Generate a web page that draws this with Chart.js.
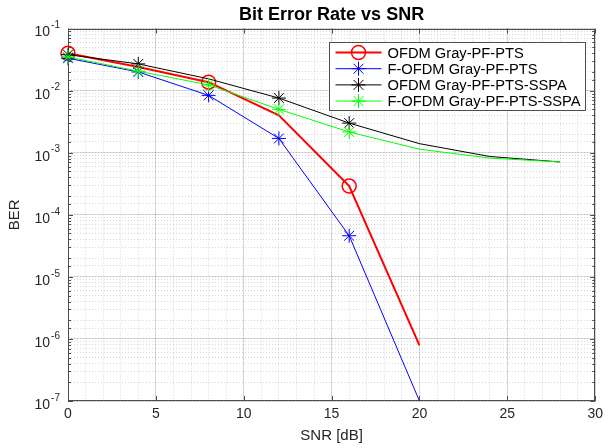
<!DOCTYPE html>
<html>
<head>
<meta charset="utf-8">
<script src="https://cdn.jsdelivr.net/npm/chart.js@4.4.1/dist/chart.umd.min.js"></script>
<style>
  html, body { margin: 0; padding: 0; background: #ffffff; }
  #wrap { width: 608px; height: 448px; }
</style>
</head>
<body>
<div id="wrap"><canvas id="c" width="608" height="448"></canvas></div>
<script>
// ---- data ----
const snr = [0, 4, 8, 12, 16, 20, 24, 28];
const seriesNames = [
  'OFDM Gray-PF-PTS',
  'F-OFDM Gray-PF-PTS',
  'OFDM Gray-PF-PTS-SSPA',
  'F-OFDM Gray-PF-PTS-SSPA'
];
const berOfdmPts      = [0.040, 0.024, 0.0137, 0.0040, 2.9e-4, 7.9e-7];
const berFofdmPts     = [0.0333, 0.020, 0.0084, 0.0017, 4.6e-5, 1.0e-7];
const berOfdmPtsSspa  = [0.038, 0.027, 0.0155, 0.0076, 0.0030, 0.0014, 8.7e-4, 7.1e-4];
const berFofdmPtsSspa = [0.035, 0.0206, 0.0124, 0.0050, 0.00216, 0.00114, 8.2e-4, 7.1e-4];
const xTicks = [0, 5, 10, 15, 20, 25, 30];
const yExponents = [-1, -2, -3, -4, -5, -6, -7];

// which samples carry a marker (style)
const markerOfdmPts      = [true, false, true, false, true, false];
const markerFofdmPts     = [true, true, true, true, true, false];
const markerOfdmPtsSspa  = [true, true, false, true, true, false, false, false];
const markerFofdmPtsSspa = [true, true, true, true, true, false, false, false];

const FONT = '"Liberation Sans", Arial, Helvetica, sans-serif';
const toXY = (ys) => ys.map((v, i) => ({ x: snr[i], y: v }));
const radii = (flags, r) => flags.map(f => f ? r : 0);

const styles = [
  { color: '#ff0000', width: 2, marker: 'circle', r: 7, mw: 1.5 },
  { color: '#0000ff', width: 1, marker: 'star', r: 7, mw: 1 },
  { color: '#000000', width: 1, marker: 'star', r: 7, mw: 1 },
  { color: '#00ff00', width: 1, marker: 'star', r: 7, mw: 1 }
];
const seriesData = [berOfdmPts, berFofdmPts, berOfdmPtsSspa, berFofdmPtsSspa];
const seriesMarkers = [markerOfdmPts, markerFofdmPts, markerOfdmPtsSspa, markerFofdmPtsSspa];

const datasets = seriesData.map((d, i) => ({
  label: seriesNames[i],
  data: toXY(d),
  borderColor: styles[i].color,
  backgroundColor: 'rgba(0,0,0,0)',
  borderWidth: styles[i].width,
  pointStyle: styles[i].marker,
  pointRadius: radii(seriesMarkers[i], styles[i].r),
  pointBorderWidth: styles[i].mw,
  pointBorderColor: styles[i].color,
  pointBackgroundColor: 'rgba(0,0,0,0)',
  pointHoverRadius: 0,
  tension: 0,
  clip: false,
  order: 3 - i
}));

const isDecade = (v) => Math.abs(Math.log10(v) - Math.round(Math.log10(v))) < 1e-6;

function drawMarker(ctx, st, x, y) {
  ctx.lineWidth = st.mw;
  ctx.strokeStyle = st.color;
  ctx.beginPath();
  if (st.marker === 'circle') {
    ctx.arc(x, y, st.r, 0, Math.PI * 2);
  } else {
    const r = st.r, d = r * Math.SQRT1_2;
    ctx.moveTo(x - r, y); ctx.lineTo(x + r, y);
    ctx.moveTo(x, y - r); ctx.lineTo(x, y + r);
    ctx.moveTo(x - d, y - d); ctx.lineTo(x + d, y + d);
    ctx.moveTo(x - d, y + d); ctx.lineTo(x + d, y - d);
  }
  ctx.stroke();
}

// frame, inward ticks, y tick labels with superscripts, legend
const decorPlugin = {
  id: 'decor',
  beforeDatasetsDraw(chart) {
    const ctx = chart.ctx;
    const a = chart.chartArea;
    const xs = chart.scales.x, ys = chart.scales.yMinor;
    ctx.save();
    ctx.strokeStyle = '#4d4d4d';
    ctx.lineWidth = 1;
    ctx.setLineDash([]);
    ctx.strokeRect(Math.round(a.left) + 0.5, Math.round(a.top) + 0.5,
                   Math.round(a.right - a.left) - 1, Math.round(a.bottom - a.top) - 1);
    ctx.beginPath();
    xs.ticks.forEach(t => {
      const px = Math.round(xs.getPixelForValue(t.value)) + 0.5;
      ctx.moveTo(px, a.bottom); ctx.lineTo(px, a.bottom - 5);
      ctx.moveTo(px, a.top); ctx.lineTo(px, a.top + 5);
    });
    ys.ticks.forEach(t => {
      const py = Math.round(ys.getPixelForValue(t.value)) + 0.5;
      const len = isDecade(t.value) ? 5 : 3;
      ctx.moveTo(a.left, py); ctx.lineTo(a.left + len, py);
      ctx.moveTo(a.right, py); ctx.lineTo(a.right - len, py);
    });
    ctx.stroke();
    ctx.restore();
  },
  afterDraw(chart) {
    const ctx = chart.ctx;
    const a = chart.chartArea;
    const ys = chart.scales.y;
    ctx.save();
    // y tick labels 10^k
    ctx.fillStyle = '#262626';
    yExponents.forEach(k => {
      const py = ys.getPixelForValue(Math.pow(10, k));
      const expTxt = String(k);
      ctx.font = '10px ' + FONT;
      ctx.textAlign = 'right';
      ctx.textBaseline = 'middle';
      const ew = ctx.measureText(expTxt).width;
      const right = a.left - 8;
      ctx.fillText(expTxt, right, py - 3);
      ctx.font = '14px ' + FONT;
      ctx.fillText('10', right - ew - 1, py + 4);
    });
    // legend
    const bw = 256, bh = 68;
    const bx = Math.round(a.right - 10 - bw) + 0.5, by = Math.round(a.top + 13) + 0.5;
    ctx.fillStyle = '#ffffff';
    ctx.fillRect(bx, by, bw, bh);
    ctx.strokeStyle = '#4d4d4d';
    ctx.lineWidth = 1;
    ctx.strokeRect(bx, by, bw, bh);
    chart.data.datasets.forEach((ds, i) => {
      const st = styles[i];
      const ry = by + 10 + i * 16.2;
      ctx.strokeStyle = st.color;
      ctx.lineWidth = st.width;
      ctx.beginPath();
      ctx.moveTo(bx + 6, ry); ctx.lineTo(bx + 52, ry);
      ctx.stroke();
      drawMarker(ctx, st, bx + 29, ry);
      ctx.fillStyle = '#000000';
      ctx.font = '14.7px ' + FONT;
      ctx.textAlign = 'left';
      ctx.textBaseline = 'middle';
      ctx.fillText(ds.label, bx + 58, ry + 1);
    });
    ctx.restore();
  }
};

new Chart(document.getElementById('c'), {
  type: 'line',
  data: { datasets },
  options: {
    responsive: false,
    animation: false,
    devicePixelRatio: 1,
    layout: { padding: { left: 0, right: 11, top: 0, bottom: 0 } },
    plugins: {
      legend: { display: false },
      tooltip: { enabled: false },
      title: {
        display: true,
        fullSize: false,
        text: 'Bit Error Rate vs SNR',
        color: '#000000',
        font: { family: FONT, size: 18, weight: 'bold' },
        padding: { top: 4, bottom: 3 }
      }
    },
    scales: {
      xMinor: {
        type: 'linear', position: 'bottom', min: 0, max: 30,
        ticks: { display: false, stepSize: 1 },
        grid: { color: 'rgba(0,0,0,0.16)', lineWidth: 1, drawTicks: false },
        border: { display: false, dash: [1, 2] },
        afterFit: (s) => { s.height = 0; }
      },
      x: {
        type: 'linear', position: 'bottom', min: 0, max: 30,
        afterBuildTicks: (s) => { s.ticks = xTicks.map(v => ({ value: v })); },
        ticks: { color: '#262626', font: { family: FONT, size: 14 }, padding: 5, maxRotation: 0 },
        grid: { color: 'rgba(0,0,0,0.12)', lineWidth: 1, drawTicks: false },
        border: { display: false },
        title: {
          display: true, text: 'SNR [dB]', color: '#262626',
          font: { family: FONT, size: 15 }, padding: { top: 0, bottom: 3 }
        },
        afterFit: (s) => { s.height = 47; }
      },
      yMinor: {
        type: 'logarithmic', position: 'left', min: 1e-7, max: 1e-1,
        ticks: { display: false },
        grid: { color: 'rgba(0,0,0,0.16)', lineWidth: 1, drawTicks: false },
        border: { display: false, dash: [1, 2] },
        afterFit: (s) => { s.width = 0; }
      },
      y: {
        type: 'logarithmic', position: 'left', min: 1e-7, max: 1e-1,
        afterBuildTicks: (s) => { s.ticks = yExponents.map(k => ({ value: Math.pow(10, k), major: true })); },
        ticks: { display: true, callback: () => '', font: { family: FONT, size: 14 } },
        grid: { color: 'rgba(0,0,0,0.12)', lineWidth: 1, drawTicks: false },
        border: { display: false },
        title: {
          display: true, text: 'BER', color: '#262626',
          font: { family: FONT, size: 15 }, padding: { top: 6, bottom: 0 }
        },
        afterFit: (s) => { s.width = 68; }
      }
    }
  },
  plugins: [decorPlugin]
});
</script>
</body>
</html>
